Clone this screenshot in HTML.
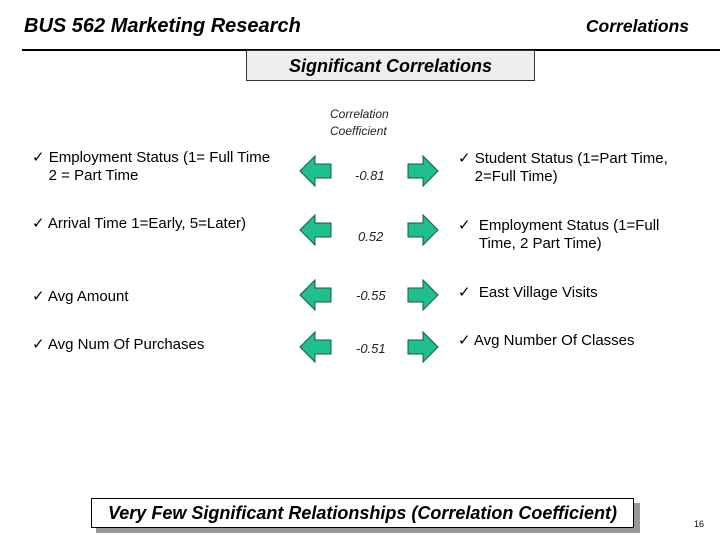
<!DOCTYPE html>
<html><head><meta charset="utf-8"><style>
body{margin:0;width:720px;height:540px;background:#fff;position:relative;overflow:hidden;font-family:"Liberation Sans",sans-serif;color:#000}
.a{position:absolute;white-space:nowrap}
.bi{font-weight:bold;font-style:italic}
.t{font-size:15px;line-height:18px}
.n{font-size:13px;font-style:italic;color:#222}
</style></head><body>
<div class="a bi" style="left:24px;top:15px;font-size:20px">BUS 562 Marketing Research</div>
<div class="a bi" style="right:31px;top:16px;font-size:17.5px">Correlations</div>
<div class="a" style="left:22px;top:49px;width:698px;height:2px;background:#000"></div>
<div class="a bi" style="left:246px;top:50px;width:287px;height:29px;background:#eee;border:1px solid #333;font-size:18px;text-align:center;line-height:30px">Significant Correlations</div>
<div class="a" style="left:330px;top:106px;font-size:12px;font-style:italic;line-height:17px;color:#222">Correlation<br>Coefficient</div>

<div class="a t" style="left:32px;top:149px">✓ Employment Status (1= Full Time<br>&nbsp;&nbsp;&nbsp;&nbsp;2 = Part Time</div>
<div class="a t" style="left:32px;top:215px">✓ Arrival Time 1=Early, 5=Later)</div>
<div class="a t" style="left:32px;top:288px">✓ Avg Amount</div>
<div class="a t" style="left:32px;top:336px">✓ Avg Num Of Purchases</div>

<div class="a n" style="left:355px;top:168px">-0.81</div>
<div class="a n" style="left:358px;top:229px">0.52</div>
<div class="a n" style="left:356px;top:288px">-0.55</div>
<div class="a n" style="left:356px;top:341px">-0.51</div>

<div class="a t" style="left:458px;top:150px">✓ Student Status (1=Part Time,<br>&nbsp;&nbsp;&nbsp;&nbsp;2=Full Time)</div>
<div class="a t" style="left:458px;top:217px">✓&nbsp; Employment Status (1=Full<br>&nbsp;&nbsp;&nbsp;&nbsp;&nbsp;Time, 2 Part Time)</div>
<div class="a t" style="left:458px;top:284px">✓&nbsp; East Village Visits</div>
<div class="a t" style="left:458px;top:332px">✓ Avg Number Of Classes</div>

<svg class="a" style="left:0;top:0" width="720" height="540">
<defs>
<polygon id="la" points="0,15 15,0 15,8 31,8 31,22 15,22 15,30" fill="#20bf8e" stroke="#1a5a44" stroke-width="1"/>
<polygon id="ra" points="30,15 15,0 15,8 0,8 0,22 15,22 15,30" fill="#20bf8e" stroke="#1a5a44" stroke-width="1"/>
</defs>
<use href="#la" x="300" y="156"/>
<use href="#ra" x="408" y="156"/>
<use href="#la" x="300" y="215"/>
<use href="#ra" x="408" y="215"/>
<use href="#la" x="300" y="280"/>
<use href="#ra" x="408" y="280"/>
<use href="#la" x="300" y="332"/>
<use href="#ra" x="408" y="332"/>
</svg>

<div class="a" style="left:96px;top:503px;width:544px;height:30px;background:#999"></div>
<div class="a bi" style="left:91px;top:498px;width:541px;height:28px;background:#fff;border:1px solid #000;font-size:18px;text-align:center;line-height:29px">Very Few Significant Relationships (Correlation Coefficient)</div>
<div class="a" style="left:694px;top:519px;font-size:9px">16</div>
</body></html>
